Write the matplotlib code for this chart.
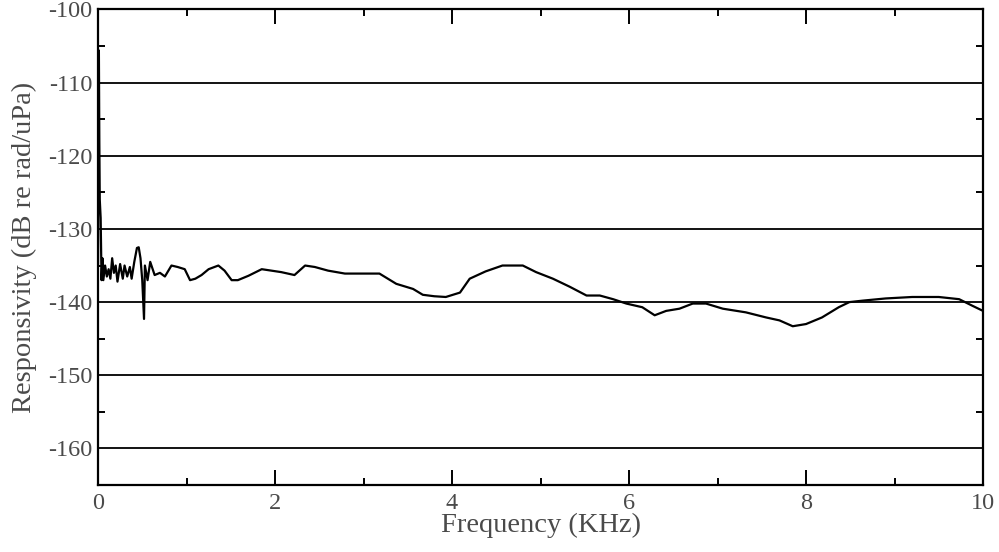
import matplotlib
matplotlib.use("Agg")
import matplotlib.pyplot as plt
from matplotlib.ticker import MultipleLocator

# Frequency (kHz) and responsivity (dB re rad/uPa)
freq = [0.0, 0.01, 0.015, 0.02, 0.03, 0.04, 0.05, 0.06, 0.08, 0.10, 0.12, 0.14,
        0.16, 0.18, 0.20, 0.22, 0.25, 0.28, 0.30, 0.33, 0.36, 0.38, 0.41, 0.44,
        0.46, 0.48, 0.50, 0.52, 0.53, 0.56, 0.59, 0.64, 0.70, 0.756, 0.83, 0.90,
        0.98, 1.04, 1.10, 1.17, 1.25, 1.36, 1.43, 1.51, 1.58, 1.70, 1.85, 2.07,
        2.22, 2.34, 2.45, 2.60, 2.79, 2.98, 3.18, 3.37, 3.56, 3.67, 3.80, 3.93,
        4.09, 4.20, 4.38, 4.57, 4.80, 4.95, 5.14, 5.33, 5.52, 5.67, 5.82, 5.97,
        6.15, 6.29, 6.42, 6.57, 6.72, 6.87, 7.06, 7.32, 7.55, 7.70, 7.85, 8.00,
        8.18, 8.37, 8.49, 8.64, 8.90, 9.20, 9.50, 9.73, 9.88, 10.0]
resp = [-135.0, -105.6, -118.0, -126.0, -128.5, -137.0, -134.0, -137.0, -135.0,
        -136.5, -135.5, -136.8, -134.0, -136.0, -135.0, -137.2, -134.8, -136.8,
        -135.0, -136.5, -135.2, -136.8, -134.5, -132.6, -132.5, -134.0, -137.0,
        -142.3, -135.0, -137.0, -134.5, -136.3, -136.0, -136.5, -135.0, -135.2,
        -135.5, -137.0, -136.8, -136.3, -135.5, -135.0, -135.7, -137.0, -137.0,
        -136.4, -135.5, -135.9, -136.3, -135.0, -135.2, -135.7, -136.1, -136.1,
        -136.1, -137.5, -138.2, -139.0, -139.2, -139.3, -138.7, -136.8, -135.8,
        -135.0, -135.0, -135.9, -136.8, -137.9, -139.1, -139.1, -139.6, -140.2,
        -140.7, -141.8, -141.2, -140.9, -140.2, -140.2, -140.9, -141.4, -142.1,
        -142.5, -143.3, -143.0, -142.1, -140.7, -140.0, -139.8, -139.5, -139.3,
        -139.3, -139.6, -140.5, -141.2]

x_ticks = [0, 2, 4, 6, 8, 10]
y_ticks = [-160, -150, -140, -130, -120, -110, -100]

plt.rcParams['font.family'] = ['Liberation Serif', 'DejaVu Serif']
plt.rcParams['axes.unicode_minus'] = False

fig = plt.figure(figsize=(9.99, 5.52), dpi=100)
ax = fig.add_axes([0.0981, 0.1214, 0.8859, 0.8614])

ax.plot(freq, resp, color='black', linewidth=1.6, zorder=3)

ax.set_xlim(0, 10)
ax.set_ylim(-165, -100)
ax.set_xticks(x_ticks)
ax.set_yticks(y_ticks)
ax.xaxis.set_minor_locator(MultipleLocator(1))
ax.yaxis.set_minor_locator(MultipleLocator(5))

for y in y_ticks[:-1]:
    ax.axhline(y, color='black', linewidth=1.3, zorder=2)

ax.tick_params(which='both', direction='in', top=True, right=True,
               colors='black', labelcolor='#4a4a4a', labelsize=17.5)
ax.tick_params(axis='x', pad=6)
ax.tick_params(axis='y', pad=4)
ax.tick_params(which='major', length=11, width=1.4)
ax.tick_params(which='minor', length=5, width=1.4)
ax.tick_params(axis='y', which='major', length=0)

for s in ax.spines.values():
    s.set_linewidth(1.6)

ax.set_xlabel('Frequency (KHz)', fontsize=20.5, color='#4a4a4a', labelpad=-1)
ax.set_ylabel('Responsivity (dB re rad/uPa)', fontsize=20.5, color='#4a4a4a', labelpad=8)

fig.savefig('out.png', dpi=100)
